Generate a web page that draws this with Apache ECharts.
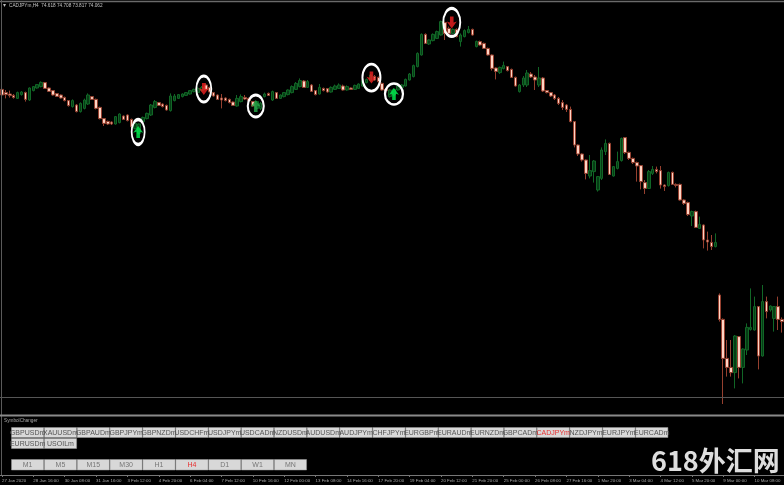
<!DOCTYPE html>
<html><head><meta charset="utf-8">
<style>html,body{margin:0;padding:0;background:#000;overflow:hidden}#chart{width:784px;height:485px;filter:blur(0.45px)}</style>
<script src="https://cdn.jsdelivr.net/npm/echarts@6/dist/echarts.min.js"></script>
</head><body><div id="chart"></div>
<script>
// CADJPYm H4 candles: [open, close, low, high]
const barsJan = [
[85.53,85.25,85.07,85.63],[85.37,85.27,85.08,85.50],[85.30,85.22,85.12,85.47],[85.23,85.13,85.07,85.30],
[85.08,85.37,85.05,85.42],[85.27,85.40,85.22,85.45],[85.37,85.03,84.92,85.42],[85.00,85.60,84.95,85.63],
[85.47,85.67,85.43,85.70],[85.60,85.77,85.57,85.80],[85.67,85.88,85.63,85.93],[85.87,85.58,85.55,85.90],
[85.60,85.43,85.40,85.63],[85.47,85.25,85.22,85.50],[85.32,85.18,85.15,85.35],[85.25,85.10,85.07,85.28],
[85.13,84.97,84.93,85.17],[84.97,84.72,84.67,85.00],[84.67,84.97,84.62,85.03],[84.75,84.42,84.38,84.80],
[84.42,84.83,84.37,84.88],[84.58,85.00,84.53,85.07],[84.80,85.25,84.75,85.33],[85.17,85.03,85.00,85.20],
[85.03,84.58,84.53,85.07],[84.63,84.07,84.03,84.67],[84.07,83.83,83.70,84.10],[83.93,83.80,83.75,83.97],
[83.90,83.80,83.75,83.93],[83.80,84.17,83.77,84.20],[83.87,84.30,83.83,84.33],[84.20,84.03,84.00,84.23],
[84.25,83.97,83.93,84.28],[84.03,83.67,83.53,84.07],[83.58,83.83,83.53,83.87],[83.33,83.80,83.28,83.83],
[83.92,84.13,83.87,84.17],[84.07,84.33,84.03,84.37],[84.25,84.75,84.20,84.80],[84.63,84.92,84.58,85.00],
];
const barsEarlyFeb = [
[84.87,84.73,84.70,84.90],[84.80,84.67,84.63,84.83],[84.73,84.50,84.47,84.77],[84.47,85.20,84.42,85.33],
[84.97,85.20,84.93,85.30],[85.08,85.27,85.05,85.30],[85.17,85.30,85.13,85.33],[85.23,85.37,85.20,85.40],
[85.30,85.47,85.27,85.50],[85.42,85.53,85.38,85.57],[85.37,85.58,85.33,85.63],[85.47,85.63,85.43,85.70],
[85.75,85.53,85.50,85.83],[85.63,85.40,85.37,85.67],[85.37,85.20,85.17,85.40],[85.25,85.03,85.00,85.28],
[85.10,85.00,84.58,85.30],[85.10,84.97,84.93,85.13],[85.03,84.87,84.83,85.07],[84.90,84.73,84.70,84.93],
[84.70,85.08,84.67,85.25],[84.92,85.17,84.88,85.28],[85.13,85.05,85.00,85.25],[85.08,84.97,84.93,85.12],
[84.92,84.70,84.67,84.95],[84.58,84.92,84.53,84.95],[84.58,84.83,84.50,84.90],[85.17,85.30,85.13,85.37],
[85.33,85.23,85.20,85.37],[85.00,85.42,84.95,85.47],[85.37,85.08,85.05,85.40],[85.08,85.25,85.05,85.28],
[85.17,85.37,85.13,85.40],[85.27,85.50,85.23,85.53],[85.37,85.67,85.33,85.73],[85.53,85.83,85.50,85.90],
[85.67,85.97,85.63,86.08],[85.95,85.63,85.60,86.00],[85.63,85.92,85.60,86.00],[85.75,85.43,85.40,85.80],
];
const barsMidFeb = [
[85.47,85.27,85.23,85.50],[85.30,85.63,85.27,85.80],[85.58,85.47,85.43,85.62],[85.57,85.40,85.37,85.60],
[85.40,85.63,85.37,85.68],[85.53,85.70,85.50,85.77],[85.58,85.75,85.55,85.83],[85.70,85.50,85.47,85.77],
[85.50,85.67,85.47,85.73],[85.60,85.53,85.50,85.63],[85.53,85.73,85.50,85.77],[85.58,85.80,85.55,85.83],
[85.70,85.95,85.67,86.00],[85.87,86.03,85.83,86.07],[85.97,86.25,85.93,86.30],[86.17,86.00,85.97,86.25],
[86.13,85.92,85.87,86.17],[85.83,85.50,85.47,85.87],[85.53,85.47,85.43,85.58],[85.17,85.50,85.12,85.53],
[85.25,85.53,85.22,85.58],[85.50,85.70,85.47,85.75],[85.63,85.75,85.60,85.80],[85.70,86.03,85.67,86.07],
[86.00,86.30,85.97,86.35],[86.17,86.72,86.13,86.77],[86.67,87.33,86.63,87.38],[87.25,88.28,87.22,88.33],
[88.28,87.83,87.80,88.33],[87.80,88.00,87.75,88.03],[87.97,88.28,87.93,88.33],[88.08,88.42,88.05,88.47],
[88.25,88.92,88.22,88.97],[88.87,88.33,88.00,88.92],[88.58,88.33,88.30,88.67],[88.33,88.53,88.30,88.58],
[88.53,88.17,88.13,88.58],[87.92,88.25,87.67,88.33],[88.17,88.47,88.13,88.53],[88.37,88.53,88.33,88.70],
];
const barsLateFeb = [
[88.53,88.25,88.22,88.57],[87.67,87.93,87.63,87.97],[87.92,87.75,87.72,87.97],[87.83,87.58,87.55,87.87],
[87.58,87.25,87.22,87.62],[87.25,86.58,86.47,87.28],[86.60,86.43,86.03,86.63],[86.37,86.63,86.30,86.67],
[86.57,86.73,86.53,86.92],[86.67,86.47,86.43,86.70],[86.53,86.13,86.10,86.57],[86.13,85.70,85.67,86.17],
[85.42,85.75,85.37,85.80],[85.75,86.10,85.65,86.20],[85.75,86.35,85.65,86.50],[86.30,86.15,86.10,86.40],
[86.15,86.00,85.50,86.25],[85.75,86.10,85.65,86.65],[86.10,85.45,85.40,86.15],[85.47,85.37,85.33,85.50],
[85.37,85.20,85.15,85.40],[85.25,85.07,85.00,85.30],[85.08,84.83,84.75,85.15],[84.87,84.63,84.50,85.00],
[84.75,84.53,84.40,84.80],[84.53,83.92,83.88,84.67],[83.92,82.75,82.63,83.95],[82.75,82.30,82.20,82.78],
[82.30,82.00,81.92,82.33],[82.00,81.33,81.03,82.03],[81.20,81.47,81.08,82.25],[81.42,81.95,80.87,82.00],
[80.50,81.17,80.42,81.20],[81.08,82.50,81.00,82.63],[82.42,82.83,82.25,83.03],[82.83,81.28,81.25,82.87],
[81.20,81.67,81.17,81.70],[81.58,81.92,81.53,82.42],[81.97,83.08,81.92,83.12],[83.12,82.37,82.30,83.15],
];
const barsMarch = [
[82.38,82.08,82.00,82.42],[82.08,81.87,81.80,82.12],[81.87,81.70,80.92,81.92],[81.72,80.92,80.53,81.75],
[80.87,80.58,80.30,81.00],[80.58,81.42,80.55,81.50],[81.33,81.53,81.25,81.70],[81.53,81.42,81.33,81.67],
[81.47,80.75,80.57,81.70],[80.75,80.67,80.45,80.78],[80.72,81.38,80.67,81.42],[81.38,80.78,80.75,81.42],
[80.78,80.73,80.63,80.83],[80.78,80.00,79.97,80.82],[80.00,79.83,79.75,80.03],[79.87,79.27,79.20,79.92],
[79.20,79.42,78.70,79.47],[79.42,78.63,78.60,79.47],[78.58,78.78,78.55,79.17],[78.75,78.00,77.58,78.78],
[78.00,77.90,77.47,78.42],[77.88,77.67,77.50,78.25],[77.67,77.88,77.63,78.33],[75.25,74.03,73.92,75.33],
[74.03,72.08,69.80,74.08],[72.08,71.63,71.17,73.00],[71.63,71.37,71.17,73.00],[71.37,73.20,70.58,73.25],
[73.17,71.63,71.08,73.20],[71.63,72.55,70.83,72.58],[72.50,73.63,72.25,73.83],[73.53,73.63,73.47,75.58],
[73.50,74.67,73.47,75.17],[74.67,72.20,71.53,74.70],[72.20,74.92,72.17,75.75],[74.92,74.42,74.08,75.17],
[74.50,74.70,74.42,74.73],[74.08,74.67,73.42,74.70],[74.67,74.03,73.50,75.17],[74.03,73.92,73.37,74.13],
];
const bars = [...barsJan, ...barsEarlyFeb, ...barsMidFeb, ...barsLateFeb, ...barsMarch];

const tickLabels = ['27 Jan 2020','28 Jan 16:00','30 Jan 08:00','31 Jan 16:00','3 Feb 12:00','4 Feb 20:00','6 Feb 04:00','7 Feb 12:00','10 Feb 16:00','12 Feb 00:00','13 Feb 08:00','14 Feb 16:00','17 Feb 20:00','19 Feb 04:00','20 Feb 12:00','21 Feb 20:00','25 Feb 00:00','26 Feb 08:00','27 Feb 16:00','1 Mar 20:00','3 Mar 04:00','4 Mar 12:00','5 Mar 20:00','9 Mar 00:00','10 Mar 08:00'];
const ticksEvery = 8;
const categories = bars.map((b, i) => i % ticksEvery === 0 ? tickLabels[i / ticksEvery] : String(i));

// Circled buy/sell signals
const signalBars   = [35, 52, 65, 94, 100, 115];
const signalPrices = [83.40, 85.55, 84.70, 86.12, 85.30, 88.88];
const signalDirs   = ['up','down','up','down','up','down'];

const titleText = 'CADJPYm,H4  74.618 74.708 73.817 74.062';
const panelTitle = 'SymbolChanger';
const symbolsRow1 = ['GBPUSDm','XAUUSDm','GBPAUDm','GBPJPYm','GBPNZDm','USDCHFm','USDJPYm','USDCADm','NZDUSDm','AUDUSDm','AUDJPYm','CHFJPYm','EURGBPm','EURAUDm','EURNZDm','GBPCADm','CADJPYm','NZDJPYm','EURJPYm','EURCADm'];
const symbolsRow2 = ['EURUSDm','USOILm'];
const timeframes  = ['M1','M5','M15','M30','H1','H4','D1','W1','MN'];
const activeSymbol = 'CADJPYm', activeFrame = 'H4';
const watermark = '618外汇网';

// ---- styles and layout ----
const ringSizes = [[13,25],[15,26],[16,22],[18,27],[18,21],[17,28]];
const ringOffsets = [[-1,0],[-2,0],[-1,0],[1,0],[0,0],[-1,0]];
const arrowColors = ['#00f050','#f02020','#25a848','#f02020','#00f050','#f02020'];
const UP = 'path://M5 0L10 6.8L6.8 5.8L6.8 12L3.2 12L3.2 5.8L0 6.8Z';
const DOWN = 'path://M3.2 0L6.8 0L6.8 6.2L10 5.2L5 12L0 5.2L3.2 6.2Z';
const RING = 'path://M1 0A1 1 0 1 1 -1 0A1 1 0 1 1 1 0Z';

const uiGraphics = [];
function line(x1,y1,x2,y2,color,w){uiGraphics.push({type:'line',silent:true,shape:{x1,y1,x2,y2},style:{stroke:color,lineWidth:w},z:60});}
function label(x,y,text,color,font,align){uiGraphics.push({type:'text',silent:true,x,y,style:{text,fill:color,font,align:align||'left',verticalAlign:'middle'},z:70});}
function button(x,y,w,h,text,color,font){
  uiGraphics.push({type:'rect',silent:true,shape:{x,y,width:w,height:h},style:{fill:'#d8d8d8',stroke:'#9a9a9a',lineWidth:0.5},z:62});
  label(x+w/2,y+h/2+0.5,text,color,font,'center');
}
// panel background hides the lower part of the main grid
uiGraphics.push({type:'rect',silent:true,shape:{x:0,y:416,width:784,height:59},style:{fill:'#000'},z:55});
line(0,1.5,784,1.5,'#6a6a6a',1.5);
line(1.5,0,1.5,475,'#5a5a5a',1);
line(0,397.5,784,397.5,'#555',1);
line(0,415.5,784,415.5,'#8a8a8a',2);
label(9,5.5,titleText,'#c4c4c4','4.7px "Liberation Sans"');
uiGraphics.push({type:'polygon',silent:true,shape:{points:[[3,4],[6,4],[4.5,7]]},style:{fill:'#bbb'},z:70});
label(4,421,panelTitle,'#a8a8a8','4.7px "Liberation Sans"');
const bw = 32.85, bx = 11.5;
const sFont = '7px "Liberation Sans"', tFont = '7px "Liberation Sans"';
symbolsRow1.forEach((s,i)=>button(bx+i*bw,427.5,bw-0.6,10,s,s===activeSymbol?'#e83030':'#555',sFont));
symbolsRow2.forEach((s,i)=>button(bx+i*bw,438.5,bw-0.6,10,s,'#555',sFont));
timeframes.forEach((s,i)=>button(bx+i*bw,459.5,bw-0.6,10.5,s,s===activeFrame?'#e83030':'#777',tFont));
label(651,460.5,watermark,'#dedede','bold 27px "Noto Sans CJK SC"');

const chart = echarts.init(document.getElementById('chart'), null, {renderer:'canvas'});
chart.setOption({
  animation:false,
  backgroundColor:'#000',
  grid:{left:0,right:0,top:5,height:470,containLabel:false,outerBoundsMode:'none'},
  xAxis:{type:'category',data:categories,boundaryGap:true,
    axisLine:{show:true,lineStyle:{color:'#777',width:1}},
    axisTick:{show:true,alignWithLabel:true,interval:ticksEvery-1,length:2,lineStyle:{color:'#777'}},
    axisLabel:{show:true,interval:ticksEvery-1,margin:4,align:'left',color:'#a8a8a8',fontSize:4.4,fontFamily:'Liberation Sans',hideOverlap:false},
    splitLine:{show:false}},
  yAxis:{type:'value',show:false,min:66.25,max:89.75,scale:true,splitLine:{show:false}},
  graphic:uiGraphics,
  series:[
    {type:'candlestick',name:'CADJPYm',data:bars,barWidth:3,
      itemStyle:{color:'#063c15',color0:'#ffd4c4',borderColor:'#116626',borderColor0:'#96402f',borderWidth:1},z:2},
    {type:'scatter',name:'arrows',z:4,
      data:signalBars.map((b,i)=>({value:[b,signalPrices[i]],symbol:signalDirs[i]==='up'?UP:DOWN,symbolOffset:ringOffsets[i],itemStyle:{color:arrowColors[i]}})),
      symbolSize:[10,12],silent:true},
    {type:'scatter',name:'rings',z:5,silent:true,
      data:signalBars.map((b,i)=>({value:[b,signalPrices[i]],symbolSize:ringSizes[i],symbolOffset:ringOffsets[i]})),
      symbol:RING,
      itemStyle:{color:'rgba(0,0,0,0)',borderColor:'#fff',borderWidth:2.4,opacity:1}}
  ]
});
</script></body></html>
